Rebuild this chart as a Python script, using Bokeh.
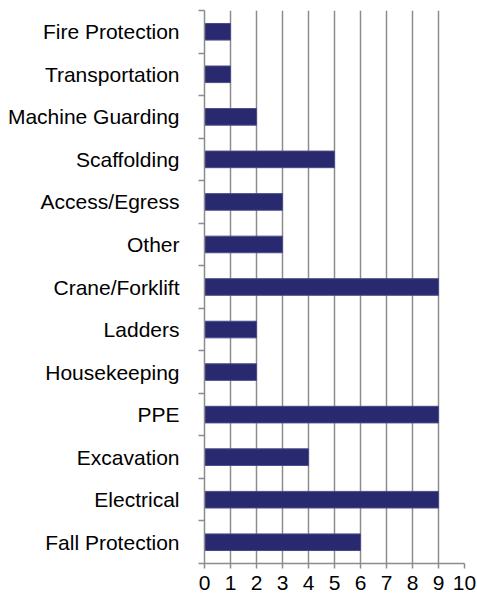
from bokeh.plotting import figure
from bokeh.models import FixedTicker, ColumnDataSource
from bokeh.embed import file_html
from bokeh.resources import INLINE

# Data (bottom to top)
categories = ["Fall Protection", "Electrical", "Excavation", "PPE", "Housekeeping",
              "Ladders", "Crane/Forklift", "Other", "Access/Egress", "Scaffolding",
              "Machine Guarding", "Transportation", "Fire Protection"]
counts = [6, 9, 4, 9, 2, 2, 9, 3, 3, 5, 2, 1, 1]
x_ticks = [0, 1, 2, 3, 4, 5, 6, 7, 8, 9, 10]

positions = list(range(1, len(categories) + 1))
source = ColumnDataSource(dict(y=positions, right=counts, cat=categories))

p = figure(width=477, height=601, output_backend="svg", toolbar_location=None,
           x_range=(0, 10), y_range=(0.5, len(categories) + 0.5),
           min_border_left=204, min_border_right=13, min_border_top=10,
           min_border_bottom=38)
p.outline_line_color = None
p.background_fill_color = "white"
p.border_fill_color = "white"

p.hbar(y="y", right="right", left=0, height=0.39, source=source,
       fill_color="#29296F", line_color="#4A4A88", line_width=1)

grid_color = "#8c8c8c"

# x axis
p.xaxis.ticker = FixedTicker(ticks=x_ticks)
p.xaxis.axis_line_color = grid_color
p.xaxis.axis_line_width = 1.5
p.xaxis.major_tick_line_color = grid_color
p.xaxis.major_tick_line_width = 1.5
p.xaxis.major_tick_out = 5
p.xaxis.major_tick_in = 0
p.xaxis.minor_tick_line_color = None
p.xaxis.major_label_text_font = "Liberation Sans"
p.xaxis.major_label_text_font_size = "21px"
p.xaxis.major_label_text_color = "black"
p.xaxis.major_label_standoff = 7

# y axis
p.yaxis.ticker = FixedTicker(ticks=positions,
                             minor_ticks=[i + 0.5 for i in range(len(categories) + 1)])
p.yaxis.major_label_overrides = {pos: cat for pos, cat in zip(positions, categories)}
p.yaxis.axis_line_color = grid_color
p.yaxis.axis_line_width = 1.5
p.yaxis.major_tick_line_color = None
p.yaxis.major_tick_out = 0
p.yaxis.major_tick_in = 0
p.yaxis.minor_tick_line_color = grid_color
p.yaxis.minor_tick_line_width = 1.5
p.yaxis.minor_tick_out = 6
p.yaxis.minor_tick_in = 0
p.yaxis.major_label_text_font = "Liberation Sans"
p.yaxis.major_label_text_font_size = "21px"
p.yaxis.major_label_text_color = "black"
p.yaxis.major_label_standoff = 19

# grids
p.xgrid.ticker = FixedTicker(ticks=x_ticks[1:])
p.xgrid.grid_line_color = grid_color
p.xgrid.grid_line_width = 1.5
p.ygrid.grid_line_color = None

open("out.html", "w").write(file_html(p, INLINE))
